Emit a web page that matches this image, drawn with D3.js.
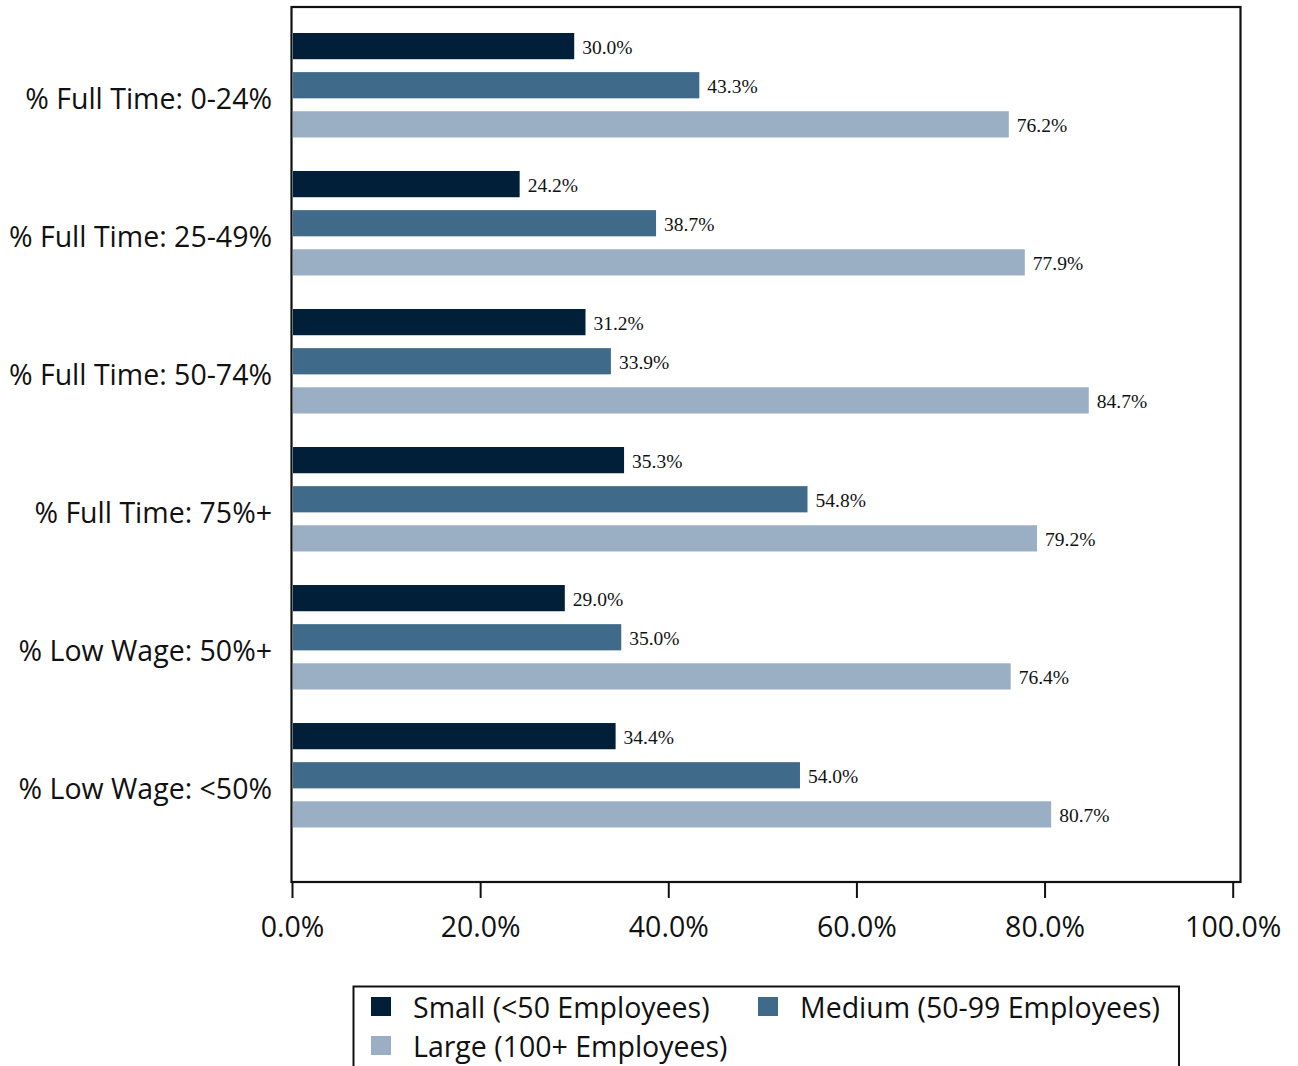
<!DOCTYPE html>
<html>
<head>
<meta charset="utf-8">
<script src="https://cdn.jsdelivr.net/npm/d3@7"></script>
<style>
  html, body { margin: 0; padding: 0; background: #fff; }
  svg { display: block; }
</style>
</head>
<body>
<svg id="chart" width="1298" height="1066"></svg>
<script>
const categories = ["% Full Time: 0-24%", "% Full Time: 25-49%", "% Full Time: 50-74%", "% Full Time: 75%+", "% Low Wage: 50%+", "% Low Wage: <50%"];
const seriesNames = ["Small (<50 Employees)", "Medium (50-99 Employees)", "Large (100+ Employees)"];
const smallValues = [30.0, 24.2, 31.2, 35.3, 29.0, 34.4];
const mediumValues = [43.3, 38.7, 33.9, 54.8, 35.0, 54.0];
const largeValues = [76.2, 77.9, 84.7, 79.2, 76.4, 80.7];
const tickValues = [0, 20, 40, 60, 80, 100];
const colors = ["#011f39", "#3f6a8a", "#9aafc3"];

const seriesValues = [smallValues, mediumValues, largeValues];
const svg = d3.select("#chart");

const x = d3.scaleLinear().domain([0, 100]).range([292, 1232.7]);
const y = d3.scaleBand().domain(categories).range([33, 827.5]).paddingInner(0.243).paddingOuter(0);
const ySub = d3.scaleBand().domain(seriesNames).range([0, y.bandwidth()]).paddingInner(0.33).paddingOuter(0);

// plot frame
svg.append("rect")
  .attr("x", 291.5).attr("y", 7)
  .attr("width", 1240.5 - 291.5).attr("height", 882 - 7)
  .attr("fill", "none").attr("stroke", "#111").attr("stroke-width", 2.2);

// bars
const groups = svg.append("g").selectAll("g")
  .data(categories).join("g")
  .attr("transform", d => `translate(0,${y(d)})`);

groups.each(function(cat, ci) {
  const g = d3.select(this);
  seriesNames.forEach((s, si) => {
    const v = seriesValues[si][ci];
    g.append("rect")
      .attr("x", x(0) + 1)
      .attr("y", ySub(s))
      .attr("width", x(v) - x(0) - 1)
      .attr("height", ySub.bandwidth())
      .attr("fill", colors[si]);
    g.append("text")
      .attr("x", x(v) + 8)
      .attr("y", ySub(s) + ySub.bandwidth() / 2 + 1.5)
      .attr("dominant-baseline", "central")
      .attr("font-family", "'Liberation Serif', 'Times New Roman', serif")
      .attr("font-size", 19.5)
      .attr("fill", "#111")
      .text(v.toFixed(1) + "%");
  });
});

// category labels
svg.append("g").selectAll("text")
  .data(categories).join("text")
  .attr("x", 272)
  .attr("y", d => y(d) + y.bandwidth() / 2 + 13)
  .attr("text-anchor", "end")
  .attr("dominant-baseline", "central")
  .attr("font-family", "'Open Sans', sans-serif")
  .attr("font-size", 28.5)
  .attr("fill", "#111")
  .text(d => d);

// x axis
const xAxis = d3.axisBottom(x).tickValues(tickValues).tickSize(16).tickPadding(19)
  .tickFormat(d => d.toFixed(1) + "%");
const ax = svg.append("g").attr("transform", "translate(0,882)").call(xAxis);
ax.select(".domain").remove();
ax.selectAll(".tick line").attr("stroke", "#111").attr("stroke-width", 2);
ax.selectAll(".tick text")
  .attr("font-family", "'Open Sans', sans-serif")
  .attr("font-size", 28.5)
  .attr("fill", "#111");

// legend
const legend = svg.append("g");
legend.append("rect")
  .attr("x", 353.5).attr("y", 986.5)
  .attr("width", 1179 - 353.5).attr("height", 120)
  .attr("fill", "#fff").attr("stroke", "#111").attr("stroke-width", 2);
const legendPos = [[371, 997], [758, 997], [371, 1036]];
seriesNames.forEach((s, i) => {
  const [lx, ly] = legendPos[i];
  legend.append("rect")
    .attr("x", lx).attr("y", ly).attr("width", 20).attr("height", 19)
    .attr("fill", colors[i]);
  legend.append("text")
    .attr("x", lx + 42).attr("y", ly + 9.5)
    .attr("dominant-baseline", "central")
    .attr("font-family", "'Open Sans', sans-serif")
    .attr("font-size", 28.5)
    .attr("fill", "#111")
    .text(s);
});
</script>
</body>
</html>
